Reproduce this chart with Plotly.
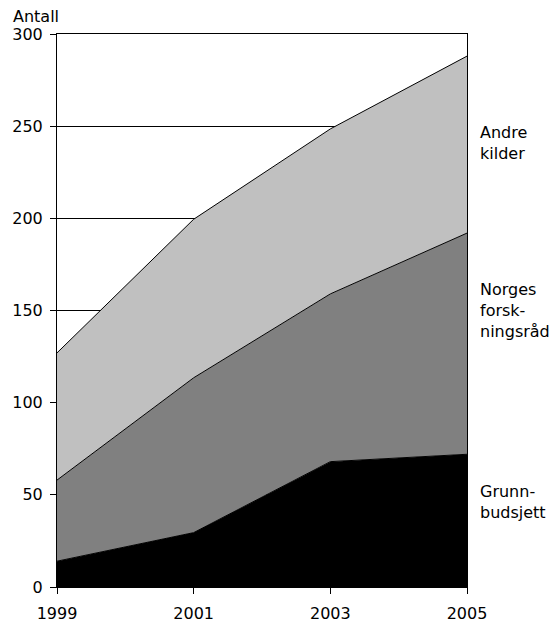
import plotly.graph_objects as go

years = [1999, 2001, 2003, 2005]
grunnbudsjett = [14, 29.5, 68, 72]
norges_forskningsrad = [44, 84, 91, 120]
andre_kilder = [69, 86, 89.5, 96]

series = [
    ("Grunnbudsjett", grunnbudsjett, "#000000"),
    ("Norges forskningsråd", norges_forskningsrad, "#808080"),
    ("Andre kilder", andre_kilder, "#c0c0c0"),
]

fig = go.Figure()
for name, vals, col in series:
    fig.add_trace(go.Scatter(
        x=years, y=vals, name=name, stackgroup="one", mode="lines",
        line=dict(color="#000000", width=1), fillcolor=col,
    ))

font = dict(family="DejaVu Sans, Liberation Sans, Arial, sans-serif", size=16, color="#000000")

fig.update_layout(
    width=551, height=623,
    margin=dict(l=57, r=84, t=34, b=36, autoexpand=False),
    plot_bgcolor="white", paper_bgcolor="white",
    showlegend=False, font=font,
    xaxis=dict(range=[1999, 2005], tickvals=years, ticks="outside", ticklen=6,
               tickcolor="#000", showgrid=False, showline=True, linecolor="#000",
               linewidth=1, mirror=True, zeroline=False, tickfont=font,
               ticklabelstandoff=6),
    yaxis=dict(range=[0, 300], tickvals=[0, 50, 100, 150, 200, 250, 300],
               ticks="outside", ticklen=6, tickcolor="#000", showgrid=True,
               gridcolor="#000", gridwidth=1, showline=True, linecolor="#000",
               linewidth=1, mirror=True, zeroline=False, tickfont=font,
               ticklabelstandoff=4),
    annotations=[
        dict(text="Antall", xref="paper", yref="paper", x=-0.112, y=1.0325,
             xanchor="left", yanchor="middle", showarrow=False, font=font),
        dict(text="Andre<br>kilder", xref="paper", yref="y", x=1.027, y=241,
             xanchor="left", yanchor="middle", align="left", showarrow=False, font=font),
        dict(text="Norges<br>forsk-<br>ningsråd", xref="paper", yref="y", x=1.027, y=150,
             xanchor="left", yanchor="middle", align="left", showarrow=False, font=font),
        dict(text="Grunn-<br>budsjett", xref="paper", yref="y", x=1.027, y=46,
             xanchor="left", yanchor="middle", align="left", showarrow=False, font=font),
    ],
)

fig.write_html(
    "out.html",
    config={"displayModeBar": False},
    post_script="document.body.style.margin='0';document.body.style.overflow='hidden';",
)
